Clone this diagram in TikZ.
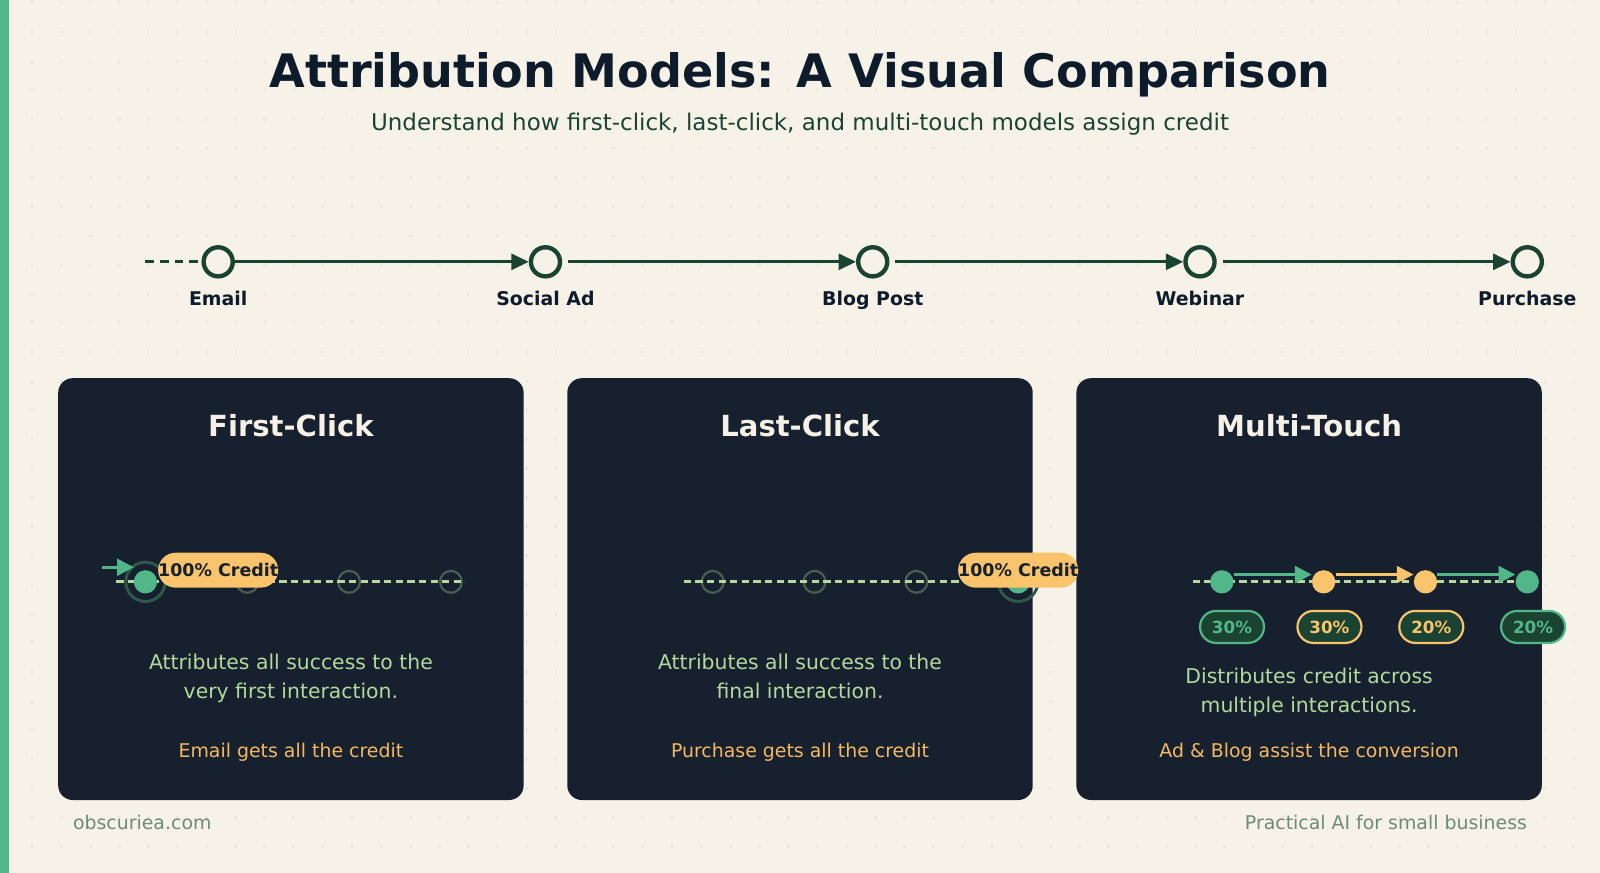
\documentclass[tikz,border=0pt]{standalone}
\usepackage{fontspec}
\setmainfont{DejaVu Sans}
\usepackage{tikz}
\usetikzlibrary{arrows.meta, positioning, calc}

\definecolor{paper}{HTML}{F6F2E8}
\definecolor{speck}{HTML}{E7E2D4}
\definecolor{leaf}{HTML}{52B788}
\definecolor{pine}{HTML}{1B4332}
\definecolor{ink}{HTML}{0D1B2A}
\definecolor{navy}{HTML}{16202E}
\definecolor{cream}{HTML}{F5F1E6}
\definecolor{mint}{HTML}{B5D99C}
\definecolor{amber}{HTML}{F9C46B}
\definecolor{amtext}{HTML}{F4B860}
\definecolor{moss}{HTML}{4A5E52}
\definecolor{halo}{HTML}{2F5A4A}
\definecolor{sage}{HTML}{6E8B78}

\begin{document}
\begin{tikzpicture}[
  x=1pt, y=-1pt,
  stop/.style={circle, draw=pine, line width=3pt, fill=paper, minimum size=20pt, inner sep=0pt},
  stoplabel/.style={anchor=base, inner sep=0pt, text=ink, font=\fontsize{13}{15}\selectfont\bfseries},
  tlarrow/.style={line width=2pt, pine, -{Triangle[length=12pt, width=11pt]}},
  card/.style={fill=navy, rounded corners=10pt, minimum width=320pt, minimum height=290pt, inner sep=0pt},
  cardtitle/.style={anchor=base, inner sep=0pt, text=cream, font=\fontsize{20}{24}\selectfont\bfseries},
  desc/.style={anchor=base, inner sep=0pt, text=mint, font=\fontsize{14}{20}\selectfont},
  note/.style={anchor=base, inner sep=0pt, text=amtext, font=\fontsize{13}{16}\selectfont},
  track/.style={line width=2pt, mint, dash pattern=on 5pt off 3pt},
  ghost/.style={circle, draw=moss, line width=1.5pt, minimum size=15pt, inner sep=0pt},
  ring/.style={circle, draw=halo, line width=2pt, minimum size=27pt, inner sep=0pt},
  dot/.style={circle, fill=#1, minimum size=16pt, inner sep=0pt},
  pill/.style={fill=amber, rounded corners=12pt, minimum width=80pt, minimum height=24pt, inner sep=0pt,
    text=navy, font=\fontsize{12}{14}\selectfont\bfseries},
  flow/.style={line width=2pt, #1, -{Triangle[length=11.5pt, width=11.5pt]}},
  share/.style={draw=#1, text=#1, fill=pine, line width=1.5pt, rounded corners=11pt, minimum width=44pt,
    minimum height=22pt, inner sep=0pt, font=\fontsize{11.5}{13}\selectfont\bfseries},
  foot/.style={inner sep=0pt, text=sage, font=\fontsize{13}{16}\selectfont},
]
% Canvas, dotted paper and side stripe
\useasboundingbox (0,0) rectangle (1100,600);
\fill[paper] (0,0) rectangle (1100,600);
\foreach \i in {1,...,54}{
  \foreach \j in {0,...,29}{ \fill[speck] (20*\i+2,20*\j+2) circle (1pt); }
}
\fill[leaf] (0,0) rectangle (6,600);

% Heading
\node[anchor=base, inner sep=0pt, text=ink, font=\fontsize{31.7}{38}\selectfont\bfseries] (title) at (550,60)
  {Attribution Models: A Visual Comparison};
\node[anchor=base, inner sep=0pt, text=pine, font=\fontsize{15.8}{19}\selectfont] (subtitle) at (550,90)
  {Understand how first-click, last-click, and multi-touch models assign credit};

% Customer journey
\coordinate (tlstart) at (100,180);
\node[stop] (email) at (150,180) {};
\node[stop] (social) at (375,180) {};
\node[stop] (blog) at (600,180) {};
\node[stop] (webinar) at (825,180) {};
\node[stop] (purchase) at (1050,180) {};
\draw[line width=2pt, pine, dash pattern=on 6pt off 4pt] (tlstart) -- (email);
\draw[tlarrow] (email) -- (social);
\draw[tlarrow, shorten <=4pt] (social) -- (blog);
\draw[tlarrow, shorten <=4pt] (blog) -- (webinar);
\draw[tlarrow, shorten <=4pt] (webinar) -- (purchase);
\node[stoplabel] (lemail) at (150,210) {Email};
\node[stoplabel] (lsocial) at (375,210) {Social Ad};
\node[stoplabel] (lblog) at (600,210) {Blog Post};
\node[stoplabel] (lwebinar) at (825,210) {Webinar};
\node[stoplabel] (lpurchase) at (1050,210) {Purchase};

% Cards
\node[card] (cfirst) at (200,405) {};
\node[card] (clast) at (550,405) {};
\node[card] (cmulti) at (900,405) {};
\node[cardtitle] (tfirst) at (200,300) {First-Click};
\node[cardtitle] (tlast) at (550,300) {Last-Click};
\node[cardtitle] (tmulti) at (900,300) {Multi-Touch};

% First-click: all credit to the first touch
\node[ghost] (f2) at (170,400) {};
\node[ghost] (f3) at (240,400) {};
\node[ghost] (f4) at (310,400) {};
\node[ring] (f1ring) at (100,400) {};
\coordinate (fa) at (80,400);
\coordinate (fb) at (320,400);
\draw[track] (fa) -- (fb);
\node[dot=leaf] (f1) at (100,400) {};
\coordinate (fin) at (70,390);
\coordinate (finend) at (92,390);
\draw[flow=leaf] (fin) -- (finend);
\node[pill] (fpill) at (150,392) {100\% Credit};
\node[desc] (fd1) at (200,460) {Attributes all success to the};
\node[desc] (fd2) at (200,480) {very first interaction.};
\node[note] (fnote) at (200,520.5) {Email gets all the credit};

% Last-click: all credit to the final touch
\node[ghost] (l1) at (490,400) {};
\node[ghost] (l2) at (560,400) {};
\node[ghost] (l3) at (630,400) {};
\node[ring] (l4ring) at (700,400) {};
\coordinate (la) at (470,400);
\coordinate (lb) at (700,400);
\draw[track] (la) -- (lb);
\node[dot=leaf] (l4) at (700,400) {};
\node[pill] (lpill) at (700,392) {100\% Credit};
\node[desc] (ld1) at (550,460) {Attributes all success to the};
\node[desc] (ld2) at (550,480) {final interaction.};
\node[note] (lnote) at (550,520.5) {Purchase gets all the credit};

% Multi-touch: credit shared along the path
\coordinate (ma) at (820,400);
\coordinate (mb) at (1050,400);
\draw[track] (ma) -- (mb);
\node[dot=leaf] (m1) at (840,400) {};
\node[dot=amber] (m2) at (910,400) {};
\node[dot=amber] (m3) at (980,400) {};
\node[dot=leaf] (m4) at (1050,400) {};
\draw[flow=leaf] ([yshift=5pt]m1.east) -- ([yshift=5pt]m2.west);
\draw[flow=amber] ([yshift=5pt]m2.east) -- ([yshift=5pt]m3.west);
\draw[flow=leaf] ([yshift=5pt]m3.east) -- ([yshift=5pt]m4.west);
\node[share=leaf] (s1) at (847,431) {30\%};
\node[share=amber] (s2) at (914,431) {30\%};
\node[share=amber] (s3) at (984,431) {20\%};
\node[share=leaf] (s4) at (1054,431) {20\%};
\node[desc] (md1) at (900,470) {Distributes credit across};
\node[desc] (md2) at (900,490) {multiple interactions.};
\node[note] (mnote) at (900,520.5) {Ad \& Blog assist the conversion};

% Footer
\node[foot, anchor=base west] (site) at (50,570) {obscuriea.com};
\node[foot, anchor=base east] (motto) at (1050,570) {Practical AI for small business};
\end{tikzpicture}
\end{document}
